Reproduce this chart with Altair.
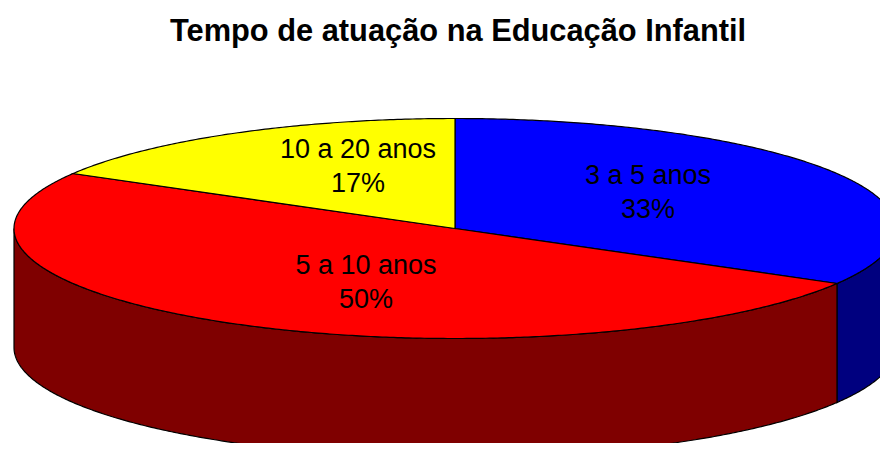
import math
import altair as alt

title = "Tempo de atuação na Educação Infantil"
categories = ["3 a 5 anos", "5 a 10 anos", "10 a 20 anos"]
shares = [33.33, 50.0, 16.67]
percent_labels = ["33%", "50%", "17%"]
top_colors = ["#0000ff", "#ff0000", "#ffff00"]
wall_colors = ["#00007f", "#7f0000", "#7f7f00"]

# Layout of the projected pie, in page pixels
CX, CY, RX, RY, DEPTH = 455.0, 228.5, 441.0, 110.0, 119.0
PAGE = 8
TOP_PAD = 60
label_anchor = {"3 a 5 anos": (648, 176), "5 a 10 anos": (366, 266), "10 a 20 anos": (358, 150)}
LINE_GAP = 34


def pt(deg, drop=0.0):
    a = math.radians(deg)
    return [CX + RX * math.sin(a) - PAGE, CY - RY * math.cos(a) + drop - PAGE - TOP_PAD]


def sweep(a, b, drop=0.0):
    n = max(2, int(abs(b - a)) * 2)
    return [pt(a + (b - a) * i / n, drop) for i in range(n + 1)]


def feature(coords, color, name):
    return {"type": "Feature", "properties": {"color": color, "name": name},
            "geometry": {"type": "Polygon", "coordinates": [coords + [coords[0]]]}}


features = []
tops = []
start = 0.0
total = sum(shares)
for name, share, top, wall in zip(categories, shares, top_colors, wall_colors):
    end = start + 360.0 * share / total
    # visible side wall: the front half of the rim, 90..270 degrees clockwise from the top
    lo, hi = max(start, 90.0), min(end, 270.0)
    if hi > lo:
        features.append(feature(sweep(lo, hi) + sweep(hi, lo, DEPTH), wall, name + " wall"))
    c = [CX - PAGE, CY - PAGE - TOP_PAD]
    tops.append(feature([c] + sweep(start, end), top, name))
    start = end
features += tops

rows = []
for name, pct in zip(categories, percent_labels):
    x, y = label_anchor[name]
    rows.append({"t": name, "px": x - PAGE, "py": y - PAGE - TOP_PAD})
    rows.append({"t": pct, "px": x - PAGE, "py": y + LINE_GAP - PAGE - TOP_PAD})

projection = alt.Projection(type="identity", scale=1, translate=[0, 0], reflectY=False)

slices = (
    alt.Chart(alt.InlineData(values={"type": "FeatureCollection", "features": features},
                             format=alt.DataFormat(property="features", type="json")))
    .mark_geoshape(stroke="#000000", strokeWidth=1.2)
    .encode(color=alt.Color("properties.color:N", scale=None))
    .project(**projection.to_dict())
)

labels = (
    alt.Chart(alt.Data(values=rows))
    .mark_text(font="Liberation Sans", fontSize=27, color="#000000", align="center", baseline="middle")
    .encode(x=alt.X("px:Q", scale=None), y=alt.Y("py:Q", scale=None), text="t:N")
)

chart = (
    alt.layer(slices, labels)
    .properties(
        width=872,
        height=375,
        padding={"left": 0, "top": TOP_PAD, "right": 0, "bottom": 0},
        autosize=alt.AutoSizeParams(type="none"),
        title=alt.TitleParams(title, font="Liberation Sans", fontSize=30.8, fontWeight="bold",
                              color="#000000", anchor="start", dx=162, offset=20),
    )
    .configure_view(stroke=None)
)

chart.save("out.html", embed_options={"renderer": "svg", "actions": False})
